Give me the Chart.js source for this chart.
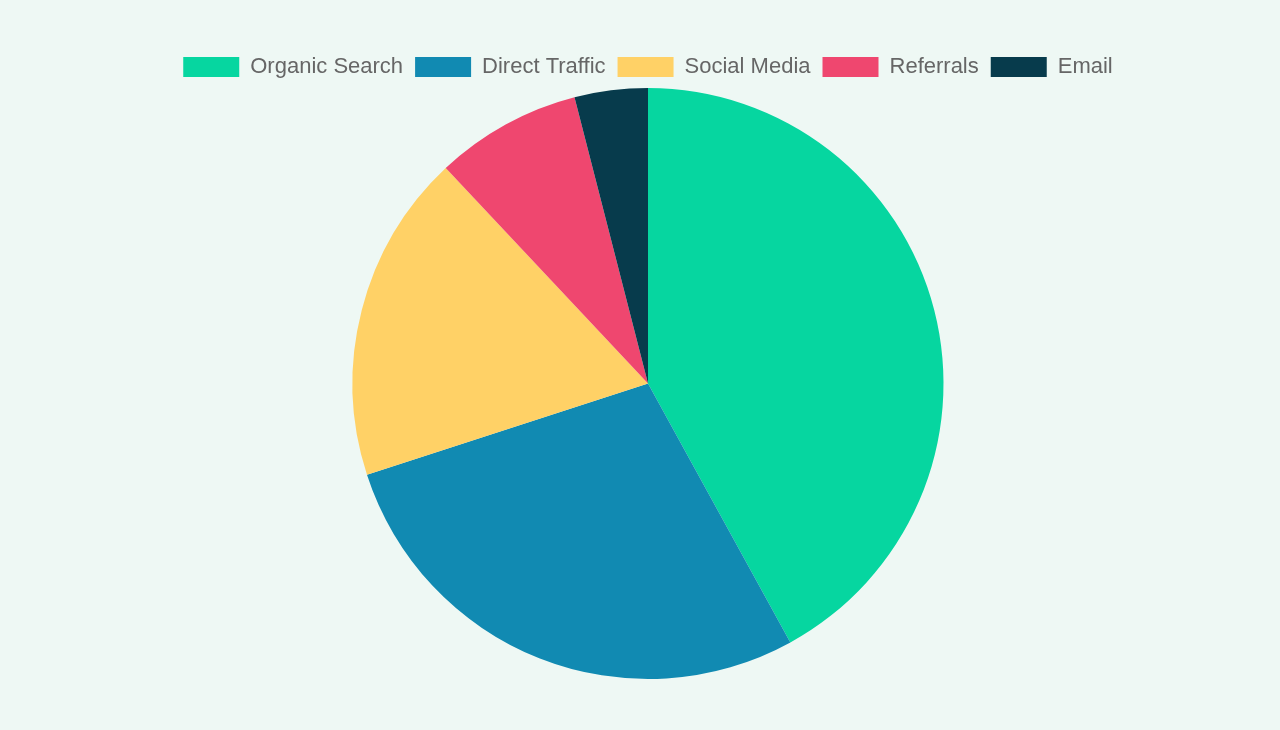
<!DOCTYPE html>
<html>
<head>
<meta charset="utf-8">
<script src="https://cdn.jsdelivr.net/npm/chart.js@4/dist/chart.umd.min.js"></script>
<style>
  html, body { margin: 0; padding: 0; background: #eef8f4; }
  #wrap { width: 1280px; height: 730px; padding: 0; box-sizing: border-box; }
</style>
</head>
<body>
<div id="wrap"><canvas id="chart-traffic"></canvas></div>
<script>
const labels = ['Organic Search', 'Direct Traffic', 'Social Media', 'Referrals', 'Email'];
const shares = [42, 28, 18, 8, 4];
const colors = ['#06d6a0', '#118ab2', '#ffd166', '#ef476f', '#073b4c'];

Chart.defaults.font.family = 'Arial, "Liberation Sans", sans-serif';
Chart.defaults.color = '#666';

new Chart(document.getElementById('chart-traffic'), {
  type: 'pie',
  data: {
    labels,
    datasets: [{ data: shares, backgroundColor: colors, borderWidth: 0 }],
  },
  options: {
    responsive: true, maintainAspectRatio: false, animation: false,
    layout: { padding: { top: 44, bottom: 51, left: 16 } },
    plugins: {
      legend: { position: 'top', labels: { boxWidth: 56, boxHeight: 20, padding: 12, font: { size: 22 } } },
      tooltip: { enabled: false },
    },
  },
});
</script>
</body>
</html>
